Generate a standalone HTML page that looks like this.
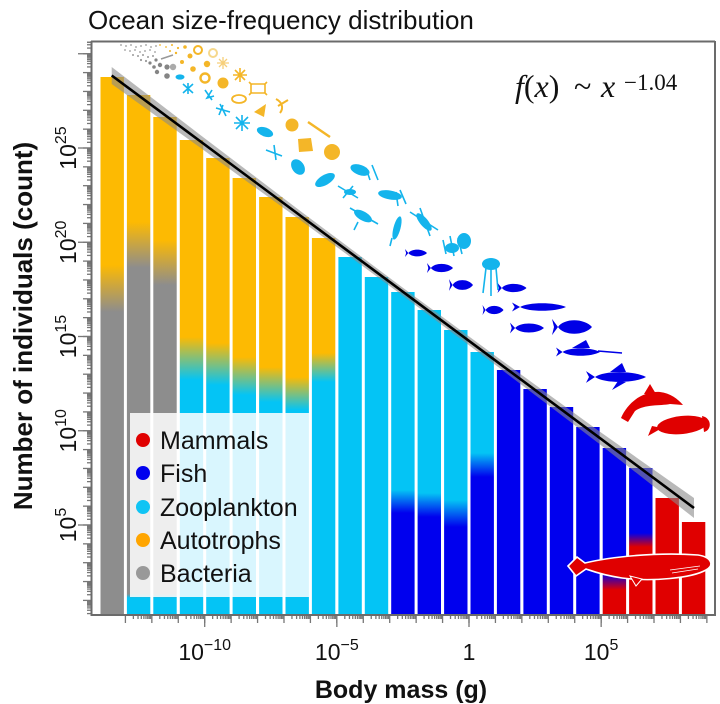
<!DOCTYPE html>
<html><head><meta charset="utf-8"><style>
html,body{margin:0;padding:0;background:#fff;}
svg{display:block;}
.s{font-family:"Liberation Sans",Arial,sans-serif;}
.m{font-family:"Liberation Serif","Times New Roman",serif;}
</style></head><body>
<svg width="720" height="704" viewBox="0 0 720 704" xmlns="http://www.w3.org/2000/svg">
<defs>
<linearGradient id="g1" gradientUnits="userSpaceOnUse" x1="0" y1="265" x2="0" y2="312"><stop offset="0" stop-color="#fdba02"/><stop offset="1" stop-color="#8d8d8d"/></linearGradient>
<linearGradient id="g2" gradientUnits="userSpaceOnUse" x1="0" y1="222" x2="0" y2="598"><stop offset="0" stop-color="#fdba02"/><stop offset="0.122" stop-color="#8d8d8d"/><stop offset="0.989" stop-color="#8d8d8d"/><stop offset="1" stop-color="#04c4f5"/></linearGradient>
<linearGradient id="g3" gradientUnits="userSpaceOnUse" x1="0" y1="240" x2="0" y2="598"><stop offset="0" stop-color="#fdba02"/><stop offset="0.126" stop-color="#8d8d8d"/><stop offset="0.989" stop-color="#8d8d8d"/><stop offset="1" stop-color="#04c4f5"/></linearGradient>
<linearGradient id="g4" gradientUnits="userSpaceOnUse" x1="0" y1="337" x2="0" y2="380"><stop offset="0" stop-color="#fdba02"/><stop offset="1" stop-color="#04c4f5"/></linearGradient>
<linearGradient id="g5" gradientUnits="userSpaceOnUse" x1="0" y1="343" x2="0" y2="385"><stop offset="0" stop-color="#fdba02"/><stop offset="1" stop-color="#04c4f5"/></linearGradient>
<linearGradient id="g6" gradientUnits="userSpaceOnUse" x1="0" y1="357" x2="0" y2="395"><stop offset="0" stop-color="#fdba02"/><stop offset="1" stop-color="#04c4f5"/></linearGradient>
<linearGradient id="g7" gradientUnits="userSpaceOnUse" x1="0" y1="367" x2="0" y2="402"><stop offset="0" stop-color="#fdba02"/><stop offset="1" stop-color="#04c4f5"/></linearGradient>
<linearGradient id="g8" gradientUnits="userSpaceOnUse" x1="0" y1="377" x2="0" y2="410"><stop offset="0" stop-color="#fdba02"/><stop offset="1" stop-color="#04c4f5"/></linearGradient>
<linearGradient id="g9" gradientUnits="userSpaceOnUse" x1="0" y1="353" x2="0" y2="382"><stop offset="0" stop-color="#fdba02"/><stop offset="1" stop-color="#04c4f5"/></linearGradient>
<linearGradient id="g10" gradientUnits="userSpaceOnUse" x1="0" y1="490" x2="0" y2="513"><stop offset="0" stop-color="#04c4f5"/><stop offset="1" stop-color="#0000ee"/></linearGradient>
<linearGradient id="g11" gradientUnits="userSpaceOnUse" x1="0" y1="493" x2="0" y2="517"><stop offset="0" stop-color="#04c4f5"/><stop offset="1" stop-color="#0000ee"/></linearGradient>
<linearGradient id="g12" gradientUnits="userSpaceOnUse" x1="0" y1="500" x2="0" y2="527"><stop offset="0" stop-color="#04c4f5"/><stop offset="1" stop-color="#0000ee"/></linearGradient>
<linearGradient id="g13" gradientUnits="userSpaceOnUse" x1="0" y1="453" x2="0" y2="477"><stop offset="0" stop-color="#04c4f5"/><stop offset="1" stop-color="#0000ee"/></linearGradient>
<linearGradient id="g14" gradientUnits="userSpaceOnUse" x1="0" y1="573" x2="0" y2="590"><stop offset="0" stop-color="#0000ee"/><stop offset="1" stop-color="#e00000"/></linearGradient>
<linearGradient id="g15" gradientUnits="userSpaceOnUse" x1="0" y1="533" x2="0" y2="547"><stop offset="0" stop-color="#0000ee"/><stop offset="1" stop-color="#e00000"/></linearGradient>
<g id="xt" stroke="#777" stroke-width="1.3">
<line x1="0" y1="615" x2="0" y2="623"/>
<line x1="7.96" y1="615" x2="7.96" y2="619"/><line x1="12.61" y1="615" x2="12.61" y2="619"/><line x1="15.91" y1="615" x2="15.91" y2="619"/><line x1="18.47" y1="615" x2="18.47" y2="619"/><line x1="20.57" y1="615" x2="20.57" y2="619"/><line x1="22.33" y1="615" x2="22.33" y2="619"/><line x1="23.87" y1="615" x2="23.87" y2="619"/><line x1="25.22" y1="615" x2="25.22" y2="619"/>
</g>
<g id="yt" stroke="#777" stroke-width="1.3">
<line x1="83" y1="0" x2="91" y2="0"/>
<line x1="87" y1="-5.67" x2="91" y2="-5.67"/><line x1="87" y1="-9" x2="91" y2="-9"/><line x1="87" y1="-11.35" x2="91" y2="-11.35"/><line x1="87" y1="-13.18" x2="91" y2="-13.18"/><line x1="87" y1="-14.67" x2="91" y2="-14.67"/><line x1="87" y1="-15.93" x2="91" y2="-15.93"/><line x1="87" y1="-17.02" x2="91" y2="-17.02"/><line x1="87" y1="-17.99" x2="91" y2="-17.99"/>
</g>
<clipPath id="yclip"><rect x="0" y="41" width="100" height="574"/></clipPath>
<path id="fish" d="M10,0 C6,-5 -4,-5 -7,0 L-10,-4.5 L-9,0 L-10,4.5 L-7,0 C-4,5 6,5 10,0Z"/>
</defs>
<rect width="720" height="704" fill="#fff"/>

<!-- title -->
<text class="s" x="88" y="29" font-size="26" fill="#111">Ocean size-frequency distribution</text>

<!-- bars -->
<rect x="100.5" y="77" width="23.4" height="538" fill="url(#g1)"/>
<rect x="126.9" y="95" width="23.4" height="520" fill="url(#g2)"/>
<rect x="153.3" y="117" width="23.4" height="498" fill="url(#g3)"/>
<rect x="179.8" y="140" width="23.4" height="475" fill="url(#g4)"/>
<rect x="206.2" y="158" width="23.4" height="457" fill="url(#g5)"/>
<rect x="232.6" y="178" width="23.4" height="437" fill="url(#g6)"/>
<rect x="259.1" y="197" width="23.4" height="418" fill="url(#g7)"/>
<rect x="285.5" y="217" width="23.4" height="398" fill="url(#g8)"/>
<rect x="311.9" y="238" width="23.4" height="377" fill="url(#g9)"/>
<rect x="338.4" y="257" width="23.4" height="358" fill="#04c4f5"/>
<rect x="364.8" y="277" width="23.4" height="338" fill="#04c4f5"/>
<rect x="391.2" y="292" width="23.4" height="323" fill="url(#g10)"/>
<rect x="417.6" y="310" width="23.4" height="305" fill="url(#g11)"/>
<rect x="444.1" y="330" width="23.4" height="285" fill="url(#g12)"/>
<rect x="470.5" y="352" width="23.4" height="263" fill="url(#g13)"/>
<rect x="496.9" y="370" width="23.4" height="245" fill="#0000ee"/>
<rect x="523.4" y="389" width="23.4" height="226" fill="#0000ee"/>
<rect x="549.8" y="407" width="23.4" height="208" fill="#0000ee"/>
<rect x="576.2" y="427" width="23.4" height="188" fill="#0000ee"/>
<rect x="602.7" y="448" width="23.4" height="167" fill="url(#g14)"/>
<rect x="629.1" y="468" width="23.4" height="147" fill="url(#g15)"/>
<rect x="655.5" y="498" width="23.4" height="117" fill="#e00000"/>
<rect x="681.9" y="522" width="23.4" height="93" fill="#e00000"/>

<!-- regression band and line -->
<polygon points="111.7,67 200,134.7 300,210.7 400,285.6 500,359.2 600,431.8 694,498 694,518 600,444.4 500,368.4 400,293.6 300,219.9 200,147.5 111.7,84" fill="#8a8a8a" fill-opacity="0.6"/>
<line x1="111.7" y1="75.5" x2="694" y2="508" stroke="#000" stroke-width="2.6"/>

<!-- bacteria icons -->
<g fill="#9a9a9a">
<circle cx="121" cy="45" r="0.9"/><circle cx="126" cy="46" r="0.9"/><circle cx="131" cy="45" r="0.9"/><circle cx="136" cy="47" r="0.9"/><circle cx="141" cy="46" r="0.9"/><circle cx="146" cy="45" r="0.9"/><circle cx="151" cy="47" r="0.9"/><circle cx="156" cy="46" r="0.9"/>
<circle cx="125" cy="50" r="0.9"/><circle cx="130" cy="51" r="0.9"/><circle cx="135" cy="50" r="0.9"/><circle cx="140" cy="52" r="0.9"/><circle cx="145" cy="51" r="0.9"/><circle cx="150" cy="50" r="0.9"/><circle cx="155" cy="52" r="0.9"/>
<circle cx="133" cy="55" r="1"/><circle cx="138" cy="56" r="1"/><circle cx="143" cy="55" r="1"/><circle cx="148" cy="57" r="1"/><circle cx="153" cy="56" r="1"/><circle cx="141" cy="60" r="1.1"/><circle cx="146" cy="61" r="1.1"/>
</g>
<g fill="#858585">
<circle cx="150" cy="63" r="1.6"/><circle cx="156" cy="60" r="1.6"/><circle cx="154" cy="67" r="1.8"/><circle cx="160" cy="65" r="2.2"/><circle cx="167" cy="67" r="2.6"/><circle cx="157" cy="72" r="2.2"/><circle cx="167" cy="76" r="2.8"/>
<circle cx="173" cy="67" r="3.2" fill="#aaa"/>
<line x1="161" y1="59" x2="173" y2="55" stroke="#999" stroke-width="1.5"/>
</g>
<!-- autotroph icons -->
<g fill="#f4b628" stroke="none">
<circle cx="160" cy="45" r="0.9"/><circle cx="166" cy="47" r="0.9"/><circle cx="172" cy="45" r="1"/><circle cx="178" cy="48" r="1.1"/><circle cx="170" cy="51" r="1"/><circle cx="176" cy="53" r="1.2"/>
<circle cx="185" cy="47" r="1.8"/><circle cx="190" cy="56" r="2.5"/><circle cx="182" cy="62" r="2"/><circle cx="207" cy="64" r="3.2"/><circle cx="193" cy="69" r="2.8"/>
<circle cx="223" cy="83" r="5.5"/><circle cx="292" cy="125" r="6.5"/><circle cx="332" cy="152" r="8"/>
<path d="M298,139 L311,138 L313,151 L299,152 Z"/>
<path d="M254,112 L266,104 L264,117 Z"/>
</g>
<g fill="none" stroke="#f4b628" stroke-width="2">
<circle cx="198" cy="50" r="4"/>
<circle cx="213" cy="53" r="4" stroke="#f6d88c"/>
<circle cx="205" cy="78" r="4.5" stroke-width="2.4"/>
<path d="M217,63 L229,63 M223,57 L223,69 M219,59 L227,67 M227,59 L219,67" stroke="#f6cf7a" stroke-width="1.3"/>
<path d="M233,75 L247,75 M240,68 L240,82 M235,70 L245,80 M245,70 L235,80" stroke-width="1.6"/>
<path d="M251,84 L265,84 L265,93 L251,93 Z M249,82 L252,85 M267,82 L264,85 M249,95 L252,92 M267,95 L264,92" stroke-width="1.6"/>
<ellipse cx="239" cy="99" rx="7" ry="4" stroke-width="1.8"/>
<path d="M276,99 C282,102 284,108 280,113 M278,106 L288,100" stroke-width="2"/>
<line x1="308" y1="122" x2="330" y2="137" stroke-width="2.4"/>
</g>
<!-- zooplankton icons -->
<g fill="#14b4ec" stroke="none">
<ellipse cx="180" cy="77" rx="4.5" ry="2.6"/>
<ellipse cx="265" cy="132" rx="8.5" ry="4.5" transform="rotate(20 265 132)"/>
<ellipse cx="298" cy="167" rx="6" ry="8.5" transform="rotate(-35 298 167)"/>
<ellipse cx="325" cy="180" rx="11" ry="5" transform="rotate(-30 325 180)"/>
<ellipse cx="360" cy="170" rx="10" ry="5" transform="rotate(20 360 170)"/>
<ellipse cx="350" cy="192" rx="6" ry="3"/>
<ellipse cx="390" cy="195" rx="12" ry="4.5" transform="rotate(10 390 195)"/>
<ellipse cx="363" cy="216" rx="10" ry="4.5" transform="rotate(30 363 216)"/>
<ellipse cx="397" cy="228" rx="3.5" ry="12" transform="rotate(15 397 228)"/>
<ellipse cx="424" cy="222" rx="4" ry="11" transform="rotate(-40 424 222)"/>
<ellipse cx="464" cy="241" rx="7" ry="8"/>
<ellipse cx="452" cy="248" rx="7" ry="5"/>
<ellipse cx="491" cy="264" rx="9" ry="6"/>
</g>
<g fill="none" stroke="#14b4ec" stroke-width="1.6">
<path d="M183,84 L193,93 M193,84 L183,93 M188,83 L188,94"/>
<path d="M205,90 L212,100 M212,90 L207,98 L214,96"/>
<path d="M216,108 L230,112 M220,104 L226,116 M223,105 L219,115"/>
<path d="M234,123 L250,123 M242,115 L242,131 M236,117 L248,129 M248,117 L236,129"/>
<path d="M266,150 L282,156 M274,145 L276,160"/>
<path d="M338,186 L358,198 M343,198 L353,186"/>
<path d="M372,165 L378,180 M366,168 L370,180 M400,190 L406,204 M396,192 L398,206"/>
<path d="M350,208 L378,224 M358,222 L354,230"/>
<path d="M392,238 L390,246 M410,212 L438,230 M420,208 L430,236"/>
<path d="M443,240 L446,254 M450,236 L454,256 M458,238 L462,254"/>
<path d="M486,268 L483,293 M491,268 L491,296 M496,268 L498,290"/>
</g>
<!-- fish icons -->
<g fill="#0000e6">
<use href="#fish" transform="translate(416,253) scale(1.1,0.9)"/>
<use href="#fish" transform="translate(440,268) scale(1.3,1.1)"/>
<use href="#fish" transform="translate(461,285) scale(1.2,1.3)"/>
<use href="#fish" transform="translate(512,288) scale(1.45,1.1)"/>
<use href="#fish" transform="translate(493,310) scale(1.05,1.1)"/>
<use href="#fish" transform="translate(539,307) scale(2.7,1.0)"/>
<use href="#fish" transform="translate(527,328) scale(1.7,1.2)"/>
<use href="#fish" transform="translate(572,327) scale(2.0,1.8)"/>
<use href="#fish" transform="translate(578,352) scale(2.2,1.0)"/>
<line x1="598" y1="351" x2="622" y2="353" stroke="#0000e6" stroke-width="1.6"/>
<path d="M572,348 L586,340 L590,348 Z"/>
<use href="#fish" transform="translate(616,377) scale(3.0,1.3)"/>
<path d="M610,372 L622,363 L626,372 Z"/>
<path d="M618,381 L612,390 L626,382 Z"/>
</g>
<!-- mammal icons -->
<g fill="#e00000">
<path d="M621,418 C628,402 643,391 660,392 C670,393 678,399 683,405 L670,404 C660,406 645,404 635,411 L628,422 Z"/>
<path d="M644,394 L650,384 L656,394 Z"/>
<ellipse cx="682" cy="425" rx="25" ry="9" transform="rotate(-6 682 425)"/>
<path d="M662,428 L648,436 L652,426 Z"/>
<path d="M702,416 C712,418 712,430 704,432 Z"/>
</g>
<!-- whale -->
<path d="M568,566 L577,557 L585,563 C610,557 655,552 698,555 C711,557 715,565 706,570 C692,578 652,582 622,578 C602,575 592,571 586,569 L576,576 Z" fill="#e00000" stroke="#fff" stroke-width="1.6"/>
<path d="M630,576 L636,586 L642,579 Z" fill="#e00000" stroke="#fff" stroke-width="1"/>
<path d="M670,570 L700,566 M672,573 L698,569" stroke="#fff" stroke-width="0.8"/>

<!-- legend -->
<rect x="130" y="413" width="180" height="184" fill="#fff" fill-opacity="0.85"/>
<circle cx="143" cy="440" r="7" fill="#e00000"/>
<circle cx="143" cy="473" r="7" fill="#0000ee"/>
<circle cx="143" cy="507" r="7" fill="#10c4f4"/>
<circle cx="143" cy="540" r="7" fill="#ffa500"/>
<circle cx="143" cy="573" r="7" fill="#999"/>
<g class="s" font-size="25" fill="#111">
<text class="s" x="160" y="449">Mammals</text>
<text class="s" x="160" y="482">Fish</text>
<text class="s" x="160" y="516">Zooplankton</text>
<text class="s" x="160" y="549">Autotrophs</text>
<text class="s" x="160" y="582">Bacteria</text>
</g>

<!-- annotation -->
<text class="m" x="515" y="97" font-size="32" fill="#111"><tspan font-style="italic">f</tspan>(<tspan font-style="italic">x</tspan>)</text>
<text class="m" x="574" y="97" font-size="32" fill="#111">~</text>
<text class="m" x="601" y="97" font-size="32" font-style="italic" fill="#111">x</text>
<text class="m" x="624" y="90" font-size="23" fill="#111">−1.04</text>

<!-- x ticks -->
<use href="#xt" x="125.41"/><use href="#xt" x="151.84"/><use href="#xt" x="178.27"/><use href="#xt" x="204.7"/><use href="#xt" x="231.13"/><use href="#xt" x="257.56"/><use href="#xt" x="283.99"/><use href="#xt" x="310.42"/><use href="#xt" x="336.85"/><use href="#xt" x="363.28"/><use href="#xt" x="389.71"/><use href="#xt" x="416.14"/><use href="#xt" x="442.57"/><use href="#xt" x="469"/><use href="#xt" x="495.43"/><use href="#xt" x="521.86"/><use href="#xt" x="548.29"/><use href="#xt" x="574.72"/><use href="#xt" x="601.15"/><use href="#xt" x="627.58"/><use href="#xt" x="654.01"/><use href="#xt" x="680.44"/>
<g stroke="#777" stroke-width="1.3">
<line x1="706.87" y1="615" x2="706.87" y2="623"/>
<line x1="204.7" y1="615" x2="204.7" y2="627"/>
<line x1="336.85" y1="615" x2="336.85" y2="627"/>
<line x1="469" y1="615" x2="469" y2="627"/>
<line x1="601.15" y1="615" x2="601.15" y2="627"/>
</g>

<!-- y ticks -->
<g clip-path="url(#yclip)">
<use href="#yt" y="619.25"/><use href="#yt" y="600.4"/><use href="#yt" y="581.55"/><use href="#yt" y="562.7"/><use href="#yt" y="543.85"/><use href="#yt" y="525"/><use href="#yt" y="506.15"/><use href="#yt" y="487.3"/><use href="#yt" y="468.45"/><use href="#yt" y="449.6"/><use href="#yt" y="430.75"/><use href="#yt" y="411.9"/><use href="#yt" y="393.05"/><use href="#yt" y="374.2"/><use href="#yt" y="355.35"/><use href="#yt" y="336.5"/><use href="#yt" y="317.65"/><use href="#yt" y="298.8"/><use href="#yt" y="279.95"/><use href="#yt" y="261.1"/><use href="#yt" y="242.25"/><use href="#yt" y="223.4"/><use href="#yt" y="204.55"/><use href="#yt" y="185.7"/><use href="#yt" y="166.85"/><use href="#yt" y="148"/><use href="#yt" y="129.15"/><use href="#yt" y="110.3"/><use href="#yt" y="91.45"/><use href="#yt" y="72.6"/><use href="#yt" y="53.75"/>
<g stroke="#777" stroke-width="1.3">
<line x1="78" y1="525" x2="91" y2="525"/><line x1="78" y1="430.75" x2="91" y2="430.75"/><line x1="78" y1="336.5" x2="91" y2="336.5"/><line x1="78" y1="242.25" x2="91" y2="242.25"/><line x1="78" y1="148" x2="91" y2="148"/><line x1="78" y1="53.75" x2="91" y2="53.75"/>
</g>
</g>

<!-- frame -->
<g stroke="#6b6b6b" stroke-width="2" fill="none">
<line x1="91" y1="41.5" x2="715" y2="41.5"/>
<line x1="715" y1="41" x2="715" y2="616"/>
<line x1="91.5" y1="41" x2="91.5" y2="616"/>
<line x1="91" y1="615" x2="716" y2="615"/>
</g>

<!-- x tick labels -->
<g font-size="23" fill="#111" text-anchor="middle">
<text class="s" x="204.7" y="660">10<tspan dy="-10" font-size="16">−10</tspan></text>
<text class="s" x="336.85" y="660">10<tspan dy="-10" font-size="16">−5</tspan></text>
<text class="s" x="469" y="660">1</text>
<text class="s" x="601.15" y="660">10<tspan dy="-10" font-size="16">5</tspan></text>
</g>
<!-- y tick labels -->
<g font-size="23" fill="#111" text-anchor="middle">
<text class="s" transform="translate(76,525) rotate(-90)">10<tspan dy="-10" font-size="16">5</tspan></text>
<text class="s" transform="translate(76,430.75) rotate(-90)">10<tspan dy="-10" font-size="16">10</tspan></text>
<text class="s" transform="translate(76,336.5) rotate(-90)">10<tspan dy="-10" font-size="16">15</tspan></text>
<text class="s" transform="translate(76,242.25) rotate(-90)">10<tspan dy="-10" font-size="16">20</tspan></text>
<text class="s" transform="translate(76,148) rotate(-90)">10<tspan dy="-10" font-size="16">25</tspan></text>
</g>

<!-- axis titles -->
<text class="s" x="401" y="698" text-anchor="middle" font-size="25" font-weight="bold" fill="#111">Body mass (g)</text>
<text class="s" transform="translate(32,326) rotate(-90)" text-anchor="middle" font-size="26" font-weight="bold" fill="#111">Number of individuals (count)</text>
</svg>
</body></html>
